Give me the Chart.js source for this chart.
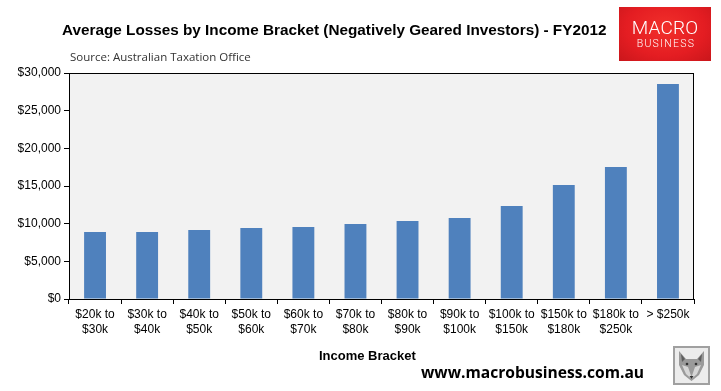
<!DOCTYPE html>
<html>
<head>
<meta charset="utf-8">
<script src="https://cdn.jsdelivr.net/npm/chart.js@4/dist/chart.umd.min.js"></script>
<style>
  body { margin: 0; background: #fff; }
  #wrap { position: relative; width: 721px; height: 391px; overflow: hidden; }
  #chart { position: absolute; left: 0; top: 0; }
  .txt { position: absolute; white-space: nowrap; line-height: 1; }
  #title { left: 62px; top: 21px; font: bold 15.3px "Liberation Sans", Arial, sans-serif; color: #000; }
  #source { left: 70px; top: 49px; font: 11.5px "Open Sans", sans-serif; color: #333; }
  #xtitle { left: 319px; top: 348px; font: bold 13px "Liberation Sans", Arial, sans-serif; color: #000; }
  #site { left: 421px; top: 361px; font: bold 15.6px "Open Sans", sans-serif; color: #000; }
  #logo { position: absolute; left: 619px; top: 7px; width: 92px; height: 54px;
          background: radial-gradient(ellipse at 50% 40%, #f2302b 0%, #e41d22 60%, #c9161b 100%); }
  #logo .m { position: absolute; left: 0; width: 92px; top: 11px; text-align: center;
             font: 300 19px Roboto, "Liberation Sans", sans-serif; color: #fff; line-height: 1; letter-spacing: 0.2px; }
  #logo .b { position: absolute; left: 1px; width: 92px; top: 32px; text-align: center;
             font: 300 10.5px Roboto, "Liberation Sans", sans-serif; color: #fff; line-height: 1; letter-spacing: 1.3px; }
  #fox { position: absolute; left: 673px; top: 346px; }
</style>
</head>
<body>
<div id="wrap">
  <canvas id="chart" width="721" height="391"></canvas>
  <div id="title" class="txt">Average Losses by Income Bracket (Negatively Geared Investors) - FY2012</div>
  <div id="source" class="txt">Source: Australian Taxation Office</div>
  <div id="logo"><div class="m">MACRO</div><div class="b">BUSINESS</div></div>
  <div id="xtitle" class="txt">Income Bracket</div>
  <div id="site" class="txt">www.macrobusiness.com.au</div>
  <svg id="fox" width="37" height="39" viewBox="0 0 37 39">
    <rect x="1" y="1" width="35" height="37" fill="#ececec" stroke="#a0a0a0" stroke-width="2"/>
    <polygon points="6,5 13,13 24,13 31,5 31,19 26,29 18.5,35 11,29 6,19" fill="#9a9a9a"/>
    <polygon points="8,8 12,13 9,16" fill="#5e5e5e"/>
    <polygon points="29,8 25,13 28,16" fill="#5e5e5e"/>
    <polygon points="9,19 15,21 18.5,31 22,21 28,19 24,28 18.5,33 13,28" fill="#d6d6d6"/>
    <circle cx="14" cy="18" r="1.3" fill="#333"/>
    <circle cx="23" cy="18" r="1.3" fill="#333"/>
    <polygon points="16.5,30 20.5,30 18.5,33" fill="#333"/>
  </svg>
</div>
<script>
// income brackets (two-line tick labels)
const brackets = [
  ['$20k to', '$30k'], ['$30k to', '$40k'], ['$40k to', '$50k'], ['$50k to', '$60k'],
  ['$60k to', '$70k'], ['$70k to', '$80k'], ['$80k to', '$90k'], ['$90k to', '$100k'],
  ['$100k to', '$150k'], ['$150k to', '$180k'], ['$180k to', '$250k'], '> $250k'
];
// average loss per investor, AUD
const avgLoss = [8900, 8900, 9150, 9420, 9560, 9950, 10350, 10750, 12350, 15130, 17520, 28540];

const yMax = 30000;
const yStep = 5000;

// grey plot background + black frame
const plotFrame = {
  id: 'plotFrame',
  beforeDraw(chart) {
    const { ctx, chartArea: a } = chart;
    ctx.save();
    ctx.fillStyle = '#f2f2f2';
    ctx.fillRect(a.left, a.top, a.right - a.left, a.bottom - a.top);
    ctx.restore();
  },
  afterDraw(chart) {
    const { ctx, chartArea: a } = chart;
    ctx.save();
    ctx.strokeStyle = '#000';
    ctx.lineWidth = 1;
    ctx.strokeRect(Math.round(a.left) + 0.5, Math.round(a.top) + 0.5,
      Math.round(a.right - a.left) - 1, Math.round(a.bottom - a.top));
    ctx.restore();
  }
};

const tickFont = { family: '"Liberation Sans", Arial, sans-serif', size: 12, lineHeight: 1.25 };

new Chart(document.getElementById('chart').getContext('2d'), {
  type: 'bar',
  data: {
    labels: brackets,
    datasets: [{
      data: avgLoss,
      backgroundColor: '#4f81bd',
      borderWidth: 0,
      categoryPercentage: 1,
      barPercentage: 0.42
    }]
  },
  options: {
    responsive: false,
    animation: false,
    devicePixelRatio: 1,
    layout: { padding: { top: 73, right: 27, left: 0, bottom: 0 } },
    plugins: { legend: { display: false }, tooltip: { enabled: false } },
    scales: {
      x: {
        afterFit(s) { s.height = 92; },
        border: { display: false },
        grid: { offset: true, drawOnChartArea: false, drawTicks: true, tickLength: 5, color: '#000' },
        ticks: { color: '#000', font: tickFont, padding: 3, maxRotation: 0, autoSkip: false }
      },
      y: {
        min: 0,
        max: yMax,
        afterFit(s) { s.width = 69; },
        border: { display: false },
        grid: { drawOnChartArea: false, drawTicks: true, tickLength: 5, color: '#000' },
        ticks: {
          stepSize: yStep,
          color: '#000',
          font: tickFont,
          padding: 3,
          callback: v => '$' + v.toLocaleString('en-US')
        }
      }
    }
  },
  plugins: [plotFrame]
});
</script>
</body>
</html>
